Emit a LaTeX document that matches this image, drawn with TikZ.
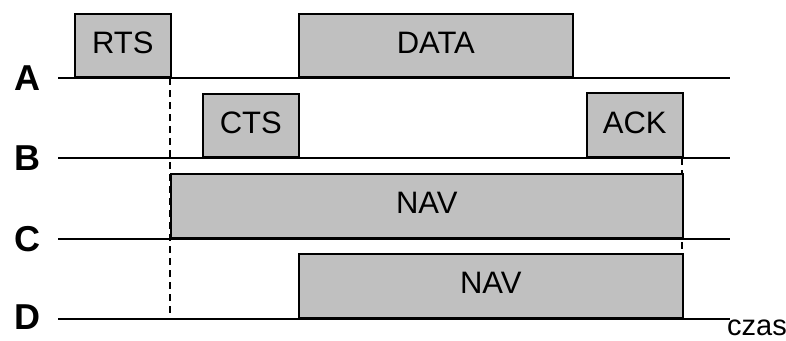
\documentclass[tikz,border=0pt]{standalone}
\usepackage{fontspec}
\setmainfont{Liberation Sans}
\begin{document}
\begin{tikzpicture}[x=1pt,y=-1pt,
  axis/.style={line width=2pt},
  guide/.style={line width=1.6pt,dash pattern=on 7pt off 5pt},
  frame/.style={draw,line width=1.6pt,fill=boxgray,anchor=south west,
    inner sep=0pt,text depth=6pt,font=\fontsize{31}{33}\selectfont},
  station/.style={font=\fontsize{36}{38}\selectfont\bfseries,inner sep=0pt},
]
\definecolor{boxgray}{HTML}{C0C0C0}
\useasboundingbox (0,0) rectangle (786,340);

% vertical guides
\coordinate (g1t) at (170,78);
\coordinate (g1b) at (170,316);
\coordinate (g2t) at (682,158);
\coordinate (g2b) at (682,255);
\draw[guide] (g1t) -- (g1b);
\draw[guide] (g2t) -- (g2b);

% station labels
\foreach \n/\y in {A/78,B/158,C/239,D/317}{
  \node[station] (lab\n) at (27,\y) {\n};
}
% time axes for the four stations
\foreach \n/\y in {A/78,B/158,C/239,D/319}{
  \coordinate (\n s) at (58,\y);
  \coordinate (\n e) at (730,\y);
  \draw[axis] (\n s) -- (\n e);
}

% frames
\node[frame,minimum width=96pt,minimum height=63pt] (rts) at (74,78) {RTS};
\node[frame,minimum width=274pt,minimum height=63pt] (data) at (298,78) {DATA};
\node[frame,minimum width=96pt,minimum height=63pt] (cts) at (202,158) {CTS};
\node[frame,minimum width=96pt,minimum height=64pt] (ack) at (586,158) {ACK};
\node[frame,minimum width=512pt,minimum height=64pt] (navc) at (170,239) {NAV};
\node[frame,minimum width=384pt,minimum height=64pt] (navd) at (298,319) {NAV};

\node[anchor=base west,inner sep=0pt,font=\fontsize{29}{31}\selectfont] (czas) at (727,335) {czas};
\end{tikzpicture}
\end{document}
